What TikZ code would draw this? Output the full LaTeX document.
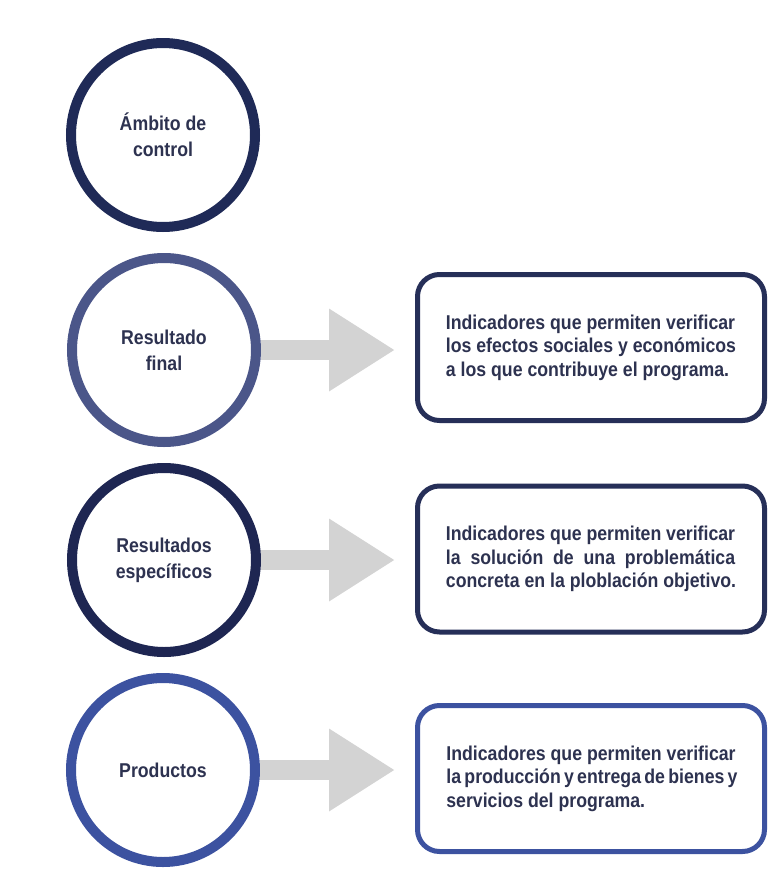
\documentclass[tikz,border=0pt]{standalone}
\usepackage{fontspec}
\usepackage{calc}
\newfontfamily\condfont{Liberation Sans}[FakeStretch=0.885]
\usetikzlibrary{arrows.meta,calc}
\definecolor{navy}{HTML}{1F2A57}
\definecolor{slate}{HTML}{4B5689}
\definecolor{darknavy}{HTML}{1E2652}
\definecolor{brightblue}{HTML}{3C52A0}
\definecolor{boxnavy}{HTML}{262F58}
\definecolor{arrowgray}{HTML}{D3D3D3}
\definecolor{txt}{HTML}{2D3250}
\newcommand{\firstline}{Indicadores que permiten verificar}
\newcommand{\fitline}[1]{\makebox[\widthof{\firstline}][s]{#1}}
\tikzset{
  circ/.style={circle, line width=10pt, minimum size=184pt, fill=white, inner sep=0pt,
    align=center, text=txt, font=\condfont\bfseries\fontsize{20}{26}\selectfont},
  infobox/.style={rounded corners=22pt, line width=5pt, minimum width=347pt, minimum height=146pt,
    fill=white, text=txt, align=left, inner sep=0pt,
    font=\condfont\bfseries\fontsize{20}{23.5}\selectfont},
  bigarrow/.style={draw=arrowgray, line width=20pt, shorten >=20pt,
    -{Triangle[width=78pt,length=66pt]}}
}
\begin{document}
\begin{tikzpicture}[x=1pt,y=-1pt]
\useasboundingbox (0,0) rectangle (773,873);
\fill[white] (0,0) rectangle (773,873);
\node[circ, draw=navy] (c1) at (163,135) {Ámbito de\\control};
\node[circ, draw=slate] (c2) at (164,350) {Resultado\\final};
\node[circ, draw=darknavy] (c3) at (164,560) {Resultados\\específicos};
\node[circ, draw=brightblue] (c4) at (163,770) {Productos};

\node[infobox, draw=boxnavy] (b1) at (591,347.5) {\firstline\\los efectos sociales y económicos\\a los que contribuye el programa.};
\node[infobox, draw=boxnavy] (b2) at (591,559) {\firstline\\\fitline{la solución de una problemática}\\concreta en la ploblación objetivo.};
\node[infobox, draw=brightblue] (b3) at (591,778.5) {\firstline\\\fitline{la producción y entrega de bienes y}\\servicios del programa.};

\draw[bigarrow] (c2.east) -- (c2.east -| b1.west);
\draw[bigarrow] (c3.east) -- (c3.east -| b2.west);
\draw[bigarrow] (c4.east) -- (c4.east -| b3.west);
\end{tikzpicture}
\end{document}
